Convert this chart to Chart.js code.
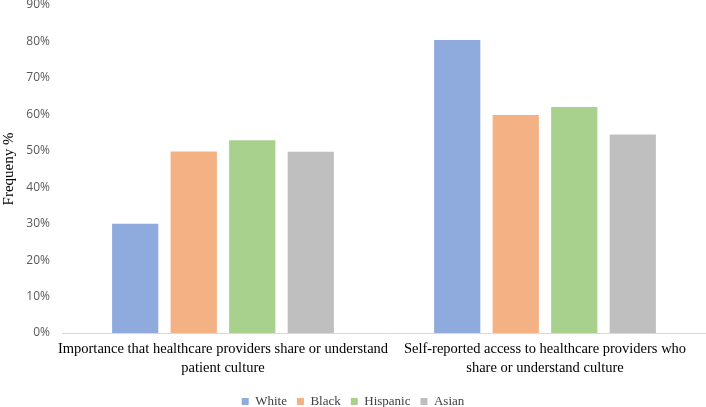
<!DOCTYPE html>
<html><head><meta charset="utf-8">
<script src="https://cdn.jsdelivr.net/npm/chart.js@4/dist/chart.umd.min.js"></script>
<style>html,body{margin:0;padding:0;background:#fff}#w{width:706px;height:407px}</style>
</head><body><div id="w"><canvas id="c"></canvas></div>
<script>
const categories = [
  ["Importance that healthcare providers share or understand", "patient culture"],
  ["Self-reported access to healthcare providers who", "share or understand culture"]
];
const seriesNames = ["White", "Black", "Hispanic", "Asian"];
const white = [30.0, 80.4];
const black = [49.8, 59.8];
const hispanic = [52.9, 62.0];
const asian = [49.7, 54.5];
const colors = ["#8FAADC", "#F4B183", "#A9D18E", "#BFBFBF"];
const yTicks = [0, 10, 20, 30, 40, 50, 60, 70, 80, 90];

const seriesData = [white, black, hispanic, asian];
new Chart(document.getElementById('c'), {
  type: 'bar',
  data: {
    labels: categories,
    datasets: seriesNames.map((n, i) => ({
      label: n, data: seriesData[i], backgroundColor: colors[i],
      categoryPercentage: 0.727, barPercentage: 0.79
    }))
  },
  options: {
    responsive: true, maintainAspectRatio: false, animation: false,
    layout: { padding: { left: 0, right: 0, top: 5, bottom: -11 } },
    plugins: {
      tooltip: { enabled: false },
      legend: {
        position: 'bottom',
        labels: { font: { family: "Liberation Serif", size: 13 }, color: '#404040',
          boxWidth: 7, boxHeight: 7, padding: 10 }
      }
    },
    scales: {
      x: {
        afterFit: s => { s.height = 52; s.paddingLeft = 0; s.paddingRight = 0; },
        grid: { display: false, drawTicks: false },
        border: { color: '#D9D9D9' },
        ticks: { font: { family: "Liberation Serif", size: 14.5, lineHeight: 1.3 }, color: '#000', maxRotation: 0, autoSkip: false, padding: 7 }
      },
      y: {
        min: 0, max: 90,
        afterBuildTicks: s => { s.ticks = yTicks.map(v => ({ value: v })); },
        afterFit: s => { s.width = 62; s.paddingTop = 0; s.paddingBottom = 0; },
        grid: { display: false, drawTicks: false },
        border: { display: false },
        ticks: { font: { family: "Open Sans", size: 12 }, color: '#595959', padding: 12,
          callback: v => v + '%' },
        title: { display: true, text: 'Frequeny %', font: { family: "Liberation Serif", size: 15 }, color: '#000', padding: 0 }
      }
    }
  }
});
</script></body></html>
